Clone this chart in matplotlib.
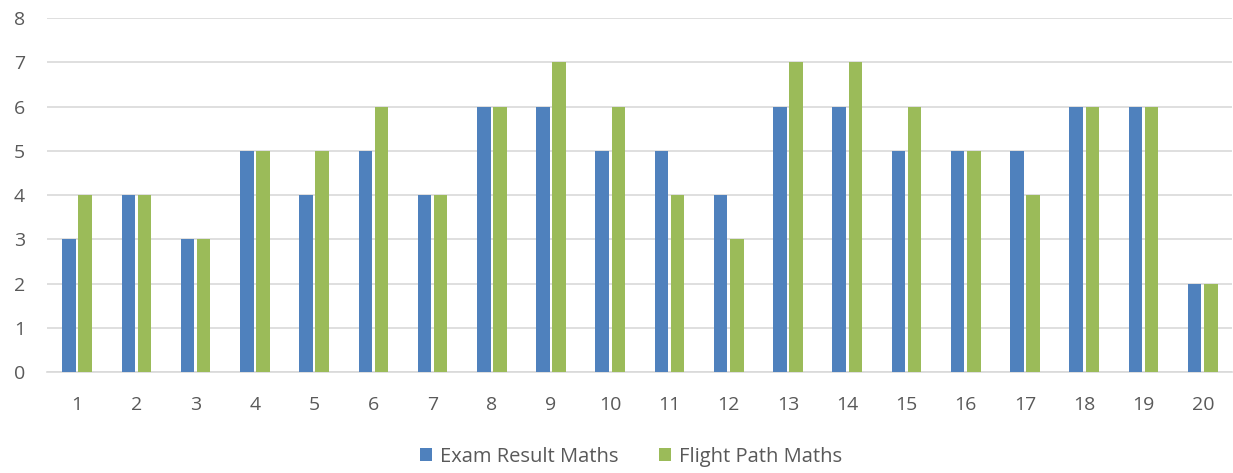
import matplotlib.pyplot as plt
import numpy as np

plt.rcParams["font.family"] = ["Open Sans", "DejaVu Sans"]

students = [str(i) for i in range(1, 21)]
exam_result = [3, 4, 3, 5, 4, 5, 4, 6, 6, 5, 5, 4, 6, 6, 5, 5, 5, 6, 6, 2]
flight_path = [4, 4, 3, 5, 5, 6, 4, 6, 7, 6, 4, 3, 7, 7, 6, 5, 4, 6, 6, 2]

BLUE = "#4F81BD"
GREEN = "#9BBB59"
TEXT = "#595959"

fig = plt.figure(figsize=(12.33, 4.73), dpi=100)
ax = fig.add_axes([0.0385, 0.2135, 0.961, 0.7484])

x = np.arange(len(students))
w = 0.228
ax.bar(x - 0.136, exam_result, width=w, color=BLUE, label="Exam Result Maths", zorder=3)
ax.bar(x + 0.136, flight_path, width=w, color=GREEN, label="Flight Path Maths", zorder=3)

ax.set_xlim(-0.5, len(students) - 0.5)
ax.set_ylim(0, 8)
ax.set_yticks(range(0, 9))
ax.set_xticks(x)
ax.set_xticklabels(students)
ax.grid(axis="y", color="#D9D9D9", linewidth=1.2, zorder=0)
ax.tick_params(axis="both", length=0, labelsize=14, colors=TEXT)
ax.tick_params(axis="y", pad=16)
ax.tick_params(axis="x", pad=17)
for side in ["top", "right", "left"]:
    ax.spines[side].set_visible(False)
ax.spines["bottom"].set_color("#D9D9D9")
ax.spines["bottom"].set_linewidth(1.2)

fig.legend(loc="center", bbox_to_anchor=(0.512, 0.034), ncol=2, frameon=False,
           fontsize=14.5, labelcolor=TEXT, handlelength=0.6, handleheight=0.6,
           columnspacing=2.0, handletextpad=0.4, borderpad=0)

fig.savefig("out.png", dpi=100, facecolor="white")
